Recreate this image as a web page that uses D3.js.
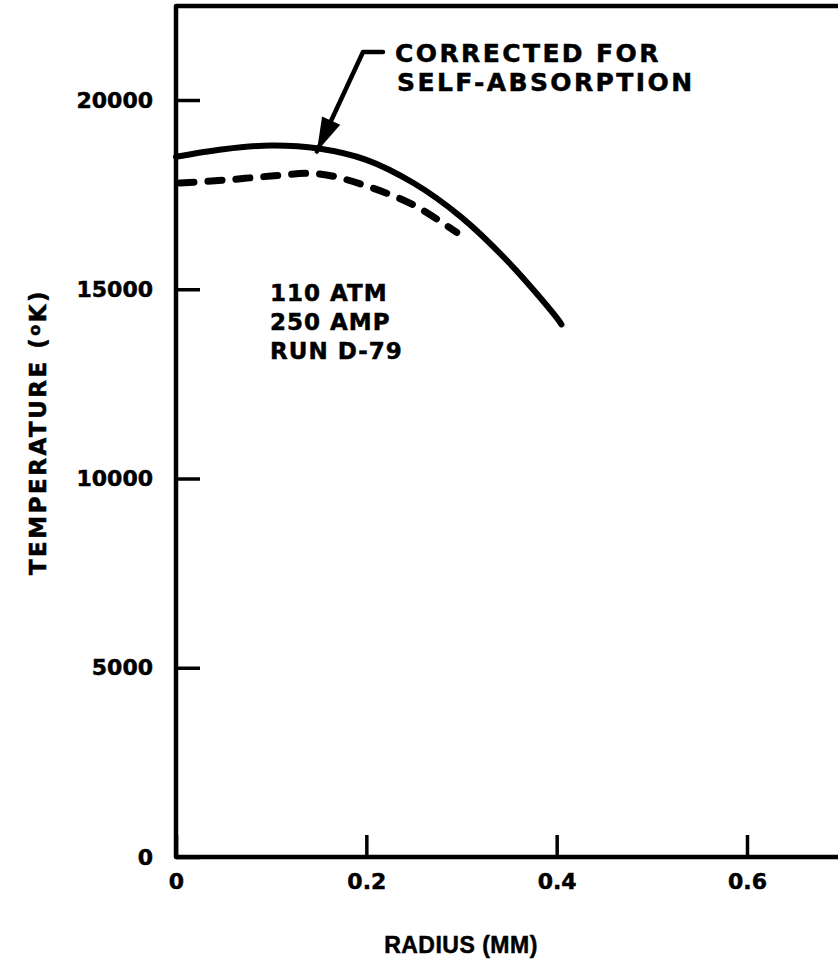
<!DOCTYPE html>
<html>
<head>
<meta charset="utf-8">
<script src="https://cdn.jsdelivr.net/npm/d3@7"></script>
<style>
  html, body { margin: 0; padding: 0; background: #fff; }
  svg { display: block; }
  text { fill: #000; stroke: #000; stroke-width: 0.5px; font-family: "DejaVu Sans", sans-serif; font-weight: bold; }
</style>
</head>
<body>
<svg id="chart" width="838" height="961"></svg>
<script>
// Radial temperature profile of the arc (radius in mm, temperature in K)
const correctedRadius = [0, 0.05, 0.1, 0.15, 0.2, 0.25, 0.3, 0.35, 0.4, 0.405];
const correctedTemp   = [18500, 18700, 18800, 18720, 18420, 17800, 16900, 15700, 14250, 14070];

const uncorrectedRadius = [0, 0.05, 0.1, 0.15, 0.2, 0.25, 0.295];
const uncorrectedTemp   = [17800, 17880, 17990, 18050, 17730, 17220, 16500];

const xTicks = [0, 0.2, 0.4, 0.6];
const xTickLabels = ["0", "0.2", "0.4", "0.6"];
const yTicks = [0, 5000, 10000, 15000, 20000];
const yTickLabels = ["0", "5000", "10000", "15000", "20000"];

const runInfo = ["110 ATM", "250 AMP", "RUN D-79"];
const calloutLines = ["CORRECTED FOR", "SELF-ABSORPTION"];
const calloutPoint = [0.148, 18720];

const W = 838, H = 961;
const plotLeft = 176, plotBottom = 857, frameTop = 6;

const svg = d3.select("#chart");

const x = d3.scaleLinear().domain([0, 0.6]).range([plotLeft, 747]);
const y = d3.scaleLinear().domain([0, 20000]).range([plotBottom, 100]);

// Frame: left axis, top edge, bottom axis (open to the right)
svg.append("path")
  .attr("d", `M${W + 5},${frameTop} L${plotLeft},${frameTop} L${plotLeft},${plotBottom} L${W + 5},${plotBottom}`)
  .attr("fill", "none").attr("stroke", "#000").attr("stroke-width", 4.5)
  .attr("stroke-linejoin", "round");

// Y axis: ticks pointing inward
const yAxis = svg.append("g")
  .attr("transform", `translate(${plotLeft},0)`)
  .call(d3.axisLeft(y).tickValues(yTicks)
    .tickFormat((d, i) => yTickLabels[i])
    .tickSize(-24).tickPadding(23));
yAxis.select(".domain").remove();
yAxis.selectAll(".tick line").attr("stroke", "#000").attr("stroke-width", 3.5);
yAxis.selectAll(".tick text")
  .style("font-family", "'DejaVu Sans', sans-serif")
  .style("font-weight", "bold").style("font-size", "22px").attr("fill", "#000");

// X axis: ticks pointing up into the plot
const xAxis = svg.append("g")
  .attr("transform", `translate(0,${plotBottom})`)
  .call(d3.axisBottom(x).tickValues(xTicks)
    .tickFormat((d, i) => xTickLabels[i])
    .tickSize(-22).tickPadding(16));
xAxis.select(".domain").remove();
xAxis.selectAll(".tick line").attr("stroke", "#000").attr("stroke-width", 3.5);
xAxis.selectAll(".tick text")
  .style("font-family", "'DejaVu Sans', sans-serif")
  .style("font-weight", "bold").style("font-size", "22px").attr("fill", "#000");

// Axis titles
svg.append("text")
  .attr("x", 461).attr("y", 953)
  .attr("text-anchor", "middle")
  .style("font-family", "'Liberation Sans', Arial, sans-serif")
  .style("font-size", "23px")
  .style("letter-spacing", "0.5px")
  .text("RADIUS (MM)");

const yTitle = svg.append("text")
  .attr("transform", "translate(46,432) rotate(-90)")
  .attr("text-anchor", "middle")
  .style("font-size", "23px")
  .style("letter-spacing", "2.5px");
yTitle.append("tspan").text("TEMPERATURE (");
yTitle.append("tspan").attr("baseline-shift", "38%").style("font-size", "16px").text("o");
yTitle.append("tspan").text("K)");

// Profiles
const line = d3.line().x(d => x(d[0])).y(d => y(d[1])).curve(d3.curveCatmullRom.alpha(0.5));

svg.append("path")
  .datum(uncorrectedRadius.map((r, i) => [r, uncorrectedTemp[i]]))
  .attr("d", line)
  .attr("fill", "none").attr("stroke", "#000").attr("stroke-width", 7)
  .attr("stroke-linecap", "round")
  .attr("stroke-dasharray", "14 14")
  .attr("stroke-dashoffset", -4);

svg.append("path")
  .datum(correctedRadius.map((r, i) => [r, correctedTemp[i]]))
  .attr("d", line)
  .attr("fill", "none").attr("stroke", "#000").attr("stroke-width", 6)
  .attr("stroke-linecap", "round").attr("stroke-linejoin", "round");

// Callout arrow pointing at the corrected profile
const tip = [x(calloutPoint[0]), y(calloutPoint[1]) + 3];
const elbow = [363, 52];
svg.append("path")
  .attr("d", `M383,52 L${elbow[0]},${elbow[1]} L${tip[0]},${tip[1]}`)
  .attr("fill", "none").attr("stroke", "#000").attr("stroke-width", 4.5)
  .attr("stroke-linejoin", "round").attr("stroke-linecap", "round");
{
  const dx = tip[0] - elbow[0], dy = tip[1] - elbow[1];
  const len = Math.hypot(dx, dy), ux = dx / len, uy = dy / len;
  const hl = 34, hw = 10;
  const bx = tip[0] - ux * hl, by = tip[1] - uy * hl;
  svg.append("path")
    .attr("d", `M${tip[0]},${tip[1]} L${bx - uy * hw},${by + ux * hw} L${bx + uy * hw},${by - ux * hw} Z`)
    .attr("fill", "#000");
}

svg.append("g").selectAll("text").data(calloutLines).join("text")
  .attr("x", (d, i) => i === 0 ? 395 : 397)
  .attr("y", (d, i) => 62 + i * 29)
  .style("font-size", "25px")
  .style("letter-spacing", "2.4px")
  .text(d => d);

// Run conditions
svg.append("g").selectAll("text").data(runInfo).join("text")
  .attr("x", 270)
  .attr("y", (d, i) => 301 + i * 29)
  .style("font-size", "23px")
  .style("letter-spacing", "1px")
  .text(d => d);
</script>
</body>
</html>
